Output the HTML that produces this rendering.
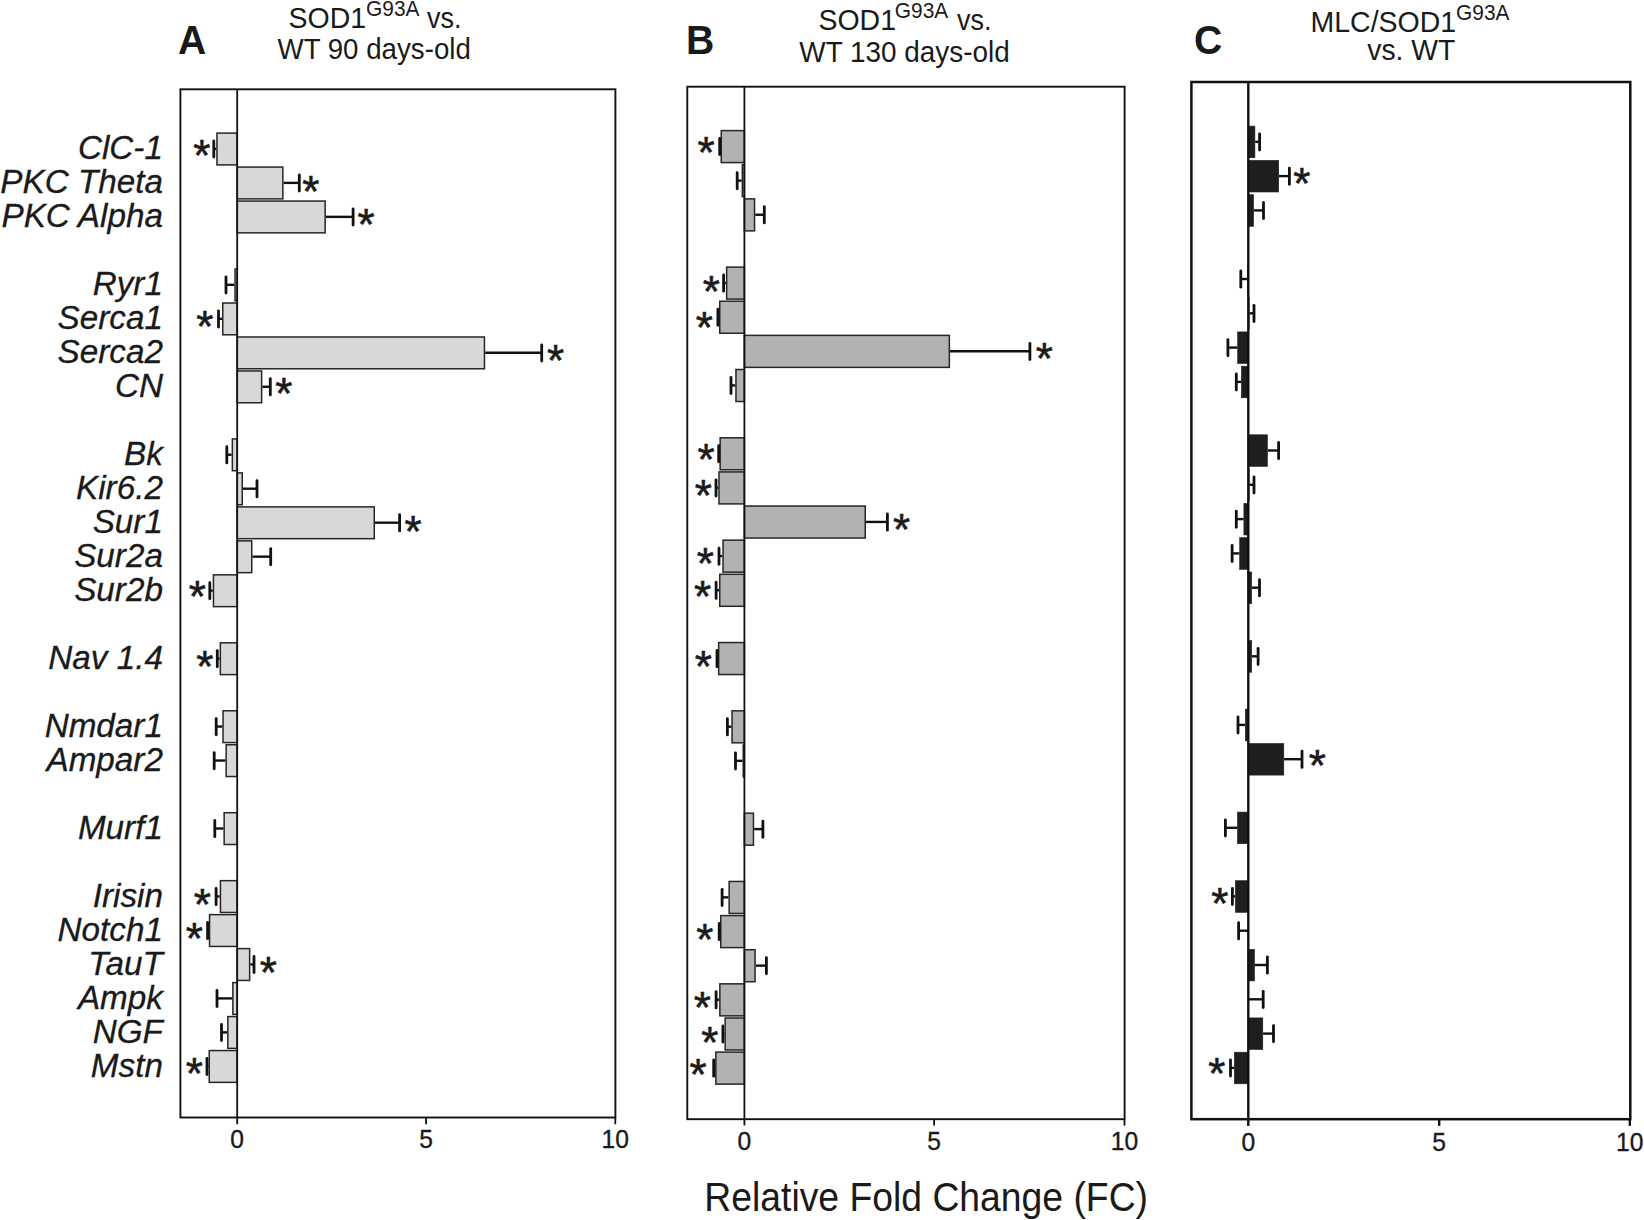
<!DOCTYPE html>
<html lang="en"><head><meta charset="utf-8"><title>Relative Fold Change</title>
<style>html,body{margin:0;padding:0;background:#fff}body{width:1644px;height:1220px;overflow:hidden}svg{display:block}text{font-family:"Liberation Sans",Arial,Helvetica,sans-serif;fill:#1a1a1a}.gl{font-style:italic;font-size:32.3px;text-anchor:end;stroke:#1a1a1a;stroke-width:0.3px}.tk{font-size:25.3px;text-anchor:middle;stroke:#1a1a1a;stroke-width:0.35px}.tt{font-size:30px}.sup{font-size:21.6px}.pl{font-weight:bold;font-size:40.4px}.ax{font-size:40.6px}.as{font-size:44px;text-anchor:middle;stroke:#1a1a1a;stroke-width:0.55px}</style></head><body>
<svg width="1644" height="1220" viewBox="0 0 1644 1220">
<rect width="1644" height="1220" fill="#ffffff"/>
<g class="gl">
<text transform="translate(162.9 158.6) scale(1.03 1)">ClC-1</text>
<text transform="translate(162.9 192.6) scale(1.03 1)">PKC Theta</text>
<text transform="translate(162.9 226.7) scale(1.03 1)">PKC Alpha</text>
<text transform="translate(162.9 294.7) scale(1.03 1)">Ryr1</text>
<text transform="translate(162.9 328.8) scale(1.03 1)">Serca1</text>
<text transform="translate(162.9 362.8) scale(1.03 1)">Serca2</text>
<text transform="translate(162.9 396.8) scale(1.03 1)">CN</text>
<text transform="translate(162.9 464.9) scale(1.03 1)">Bk</text>
<text transform="translate(162.9 498.9) scale(1.03 1)">Kir6.2</text>
<text transform="translate(162.9 532.9) scale(1.03 1)">Sur1</text>
<text transform="translate(162.9 567.0) scale(1.03 1)">Sur2a</text>
<text transform="translate(162.9 601.0) scale(1.03 1)">Sur2b</text>
<text transform="translate(162.9 669.1) scale(1.03 1)">Nav 1.4</text>
<text transform="translate(162.9 737.1) scale(1.03 1)">Nmdar1</text>
<text transform="translate(162.9 771.1) scale(1.03 1)">Ampar2</text>
<text transform="translate(162.9 839.2) scale(1.03 1)">Murf1</text>
<text transform="translate(162.9 907.3) scale(1.03 1)">Irisin</text>
<text transform="translate(162.9 941.3) scale(1.03 1)">Notch1</text>
<text transform="translate(162.9 975.3) scale(1.03 1)">TauT</text>
<text transform="translate(162.9 1009.4) scale(1.03 1)">Ampk</text>
<text transform="translate(162.9 1043.4) scale(1.03 1)">NGF</text>
<text transform="translate(162.9 1077.4) scale(1.03 1)">Mstn</text>
</g>
<g>
<rect x="216.95" y="133.10" width="20.25" height="31.80" fill="#d8d8d8" stroke="#262626" stroke-width="1.5"/>
<path d="M216.20 148.90H213.80" stroke="#111" stroke-width="2.4" fill="none"/><path d="M213.80 140.90V157.10" stroke="#111" stroke-width="2.8" stroke-linecap="round" fill="none"/>
<text class="as" x="201.8" y="171.3">*</text>
<rect x="237.20" y="167.08" width="45.65" height="31.80" fill="#d8d8d8" stroke="#262626" stroke-width="1.5"/>
<path d="M283.60 182.88H299.30" stroke="#111" stroke-width="2.4" fill="none"/><path d="M299.30 174.88V191.08" stroke="#111" stroke-width="2.8" stroke-linecap="round" fill="none"/>
<text class="as" x="310.9" y="206.5">*</text>
<rect x="237.20" y="201.06" width="87.95" height="31.80" fill="#d8d8d8" stroke="#262626" stroke-width="1.5"/>
<path d="M325.90 216.86H353.10" stroke="#111" stroke-width="2.4" fill="none"/><path d="M353.10 208.86V225.06" stroke="#111" stroke-width="2.8" stroke-linecap="round" fill="none"/>
<text class="as" x="366.0" y="239.5">*</text>
<rect x="235.05" y="269.02" width="2.15" height="31.80" fill="#d8d8d8" stroke="#262626" stroke-width="1.5"/>
<path d="M234.30 284.82H226.00" stroke="#111" stroke-width="2.4" fill="none"/><path d="M226.00 276.82V293.02" stroke="#111" stroke-width="2.8" stroke-linecap="round" fill="none"/>
<rect x="222.75" y="303.00" width="14.45" height="31.80" fill="#d8d8d8" stroke="#262626" stroke-width="1.5"/>
<path d="M222.00 318.80H218.50" stroke="#111" stroke-width="2.4" fill="none"/><path d="M218.50 310.80V327.00" stroke="#111" stroke-width="2.8" stroke-linecap="round" fill="none"/>
<text class="as" x="204.8" y="341.5">*</text>
<rect x="237.20" y="336.98" width="247.25" height="31.80" fill="#d8d8d8" stroke="#262626" stroke-width="1.5"/>
<path d="M485.20 352.78H541.70" stroke="#111" stroke-width="2.4" fill="none"/><path d="M541.70 344.78V360.98" stroke="#111" stroke-width="2.8" stroke-linecap="round" fill="none"/>
<text class="as" x="555.6" y="376.0">*</text>
<rect x="237.20" y="370.96" width="24.45" height="31.80" fill="#d8d8d8" stroke="#262626" stroke-width="1.5"/>
<path d="M262.40 386.76H270.30" stroke="#111" stroke-width="2.4" fill="none"/><path d="M270.30 378.76V394.96" stroke="#111" stroke-width="2.8" stroke-linecap="round" fill="none"/>
<text class="as" x="283.7" y="408.6">*</text>
<rect x="232.35" y="438.92" width="4.85" height="31.80" fill="#d8d8d8" stroke="#262626" stroke-width="1.5"/>
<path d="M231.60 454.72H226.80" stroke="#111" stroke-width="2.4" fill="none"/><path d="M226.80 446.72V462.92" stroke="#111" stroke-width="2.8" stroke-linecap="round" fill="none"/>
<rect x="237.20" y="472.90" width="5.05" height="31.80" fill="#d8d8d8" stroke="#262626" stroke-width="1.5"/>
<path d="M243.00 488.70H257.00" stroke="#111" stroke-width="2.4" fill="none"/><path d="M257.00 480.70V496.90" stroke="#111" stroke-width="2.8" stroke-linecap="round" fill="none"/>
<rect x="237.20" y="506.88" width="137.05" height="31.80" fill="#d8d8d8" stroke="#262626" stroke-width="1.5"/>
<path d="M375.00 522.68H399.60" stroke="#111" stroke-width="2.4" fill="none"/><path d="M399.60 514.68V530.88" stroke="#111" stroke-width="2.8" stroke-linecap="round" fill="none"/>
<text class="as" x="413.0" y="547.4">*</text>
<rect x="237.20" y="540.86" width="14.55" height="31.80" fill="#d8d8d8" stroke="#262626" stroke-width="1.5"/>
<path d="M252.50 556.66H270.70" stroke="#111" stroke-width="2.4" fill="none"/><path d="M270.70 548.66V564.86" stroke="#111" stroke-width="2.8" stroke-linecap="round" fill="none"/>
<rect x="213.45" y="574.84" width="23.75" height="31.80" fill="#d8d8d8" stroke="#262626" stroke-width="1.5"/>
<path d="M212.70 590.64H209.80" stroke="#111" stroke-width="2.4" fill="none"/><path d="M209.80 582.64V598.84" stroke="#111" stroke-width="2.8" stroke-linecap="round" fill="none"/>
<text class="as" x="197.3" y="612.3">*</text>
<rect x="220.35" y="642.80" width="16.85" height="31.80" fill="#d8d8d8" stroke="#262626" stroke-width="1.5"/>
<path d="M219.60 658.60H217.30" stroke="#111" stroke-width="2.4" fill="none"/><path d="M217.30 650.60V666.80" stroke="#111" stroke-width="2.8" stroke-linecap="round" fill="none"/>
<text class="as" x="204.8" y="681.9">*</text>
<rect x="223.05" y="710.76" width="14.15" height="31.80" fill="#d8d8d8" stroke="#262626" stroke-width="1.5"/>
<path d="M222.30 726.56H216.20" stroke="#111" stroke-width="2.4" fill="none"/><path d="M216.20 718.56V734.76" stroke="#111" stroke-width="2.8" stroke-linecap="round" fill="none"/>
<rect x="226.15" y="744.74" width="11.05" height="31.80" fill="#d8d8d8" stroke="#262626" stroke-width="1.5"/>
<path d="M225.40 760.54H214.20" stroke="#111" stroke-width="2.4" fill="none"/><path d="M214.20 752.54V768.74" stroke="#111" stroke-width="2.8" stroke-linecap="round" fill="none"/>
<rect x="224.15" y="812.70" width="13.05" height="31.80" fill="#d8d8d8" stroke="#262626" stroke-width="1.5"/>
<path d="M223.40 828.50H214.80" stroke="#111" stroke-width="2.4" fill="none"/><path d="M214.80 820.50V836.70" stroke="#111" stroke-width="2.8" stroke-linecap="round" fill="none"/>
<rect x="220.45" y="880.66" width="16.75" height="31.80" fill="#d8d8d8" stroke="#262626" stroke-width="1.5"/>
<path d="M219.70 896.46H216.10" stroke="#111" stroke-width="2.4" fill="none"/><path d="M216.10 888.46V904.66" stroke="#111" stroke-width="2.8" stroke-linecap="round" fill="none"/>
<text class="as" x="202.2" y="920.0">*</text>
<rect x="209.55" y="914.64" width="27.65" height="31.80" fill="#d8d8d8" stroke="#262626" stroke-width="1.5"/>
<path d="M208.80 930.44H207.60" stroke="#111" stroke-width="2.4" fill="none"/><path d="M207.60 922.44V938.64" stroke="#111" stroke-width="2.8" stroke-linecap="round" fill="none"/>
<text class="as" x="194.2" y="953.5">*</text>
<rect x="237.20" y="948.62" width="12.45" height="31.80" fill="#d8d8d8" stroke="#262626" stroke-width="1.5"/>
<path d="M250.40 964.42H254.00" stroke="#111" stroke-width="2.4" fill="none"/><path d="M254.00 956.42V972.62" stroke="#111" stroke-width="2.8" stroke-linecap="round" fill="none"/>
<text class="as" x="268.4" y="987.8">*</text>
<rect x="232.85" y="982.60" width="4.35" height="31.80" fill="#d8d8d8" stroke="#262626" stroke-width="1.5"/>
<path d="M232.10 998.40H217.00" stroke="#111" stroke-width="2.4" fill="none"/><path d="M217.00 990.40V1006.60" stroke="#111" stroke-width="2.8" stroke-linecap="round" fill="none"/>
<rect x="227.85" y="1016.58" width="9.35" height="31.80" fill="#d8d8d8" stroke="#262626" stroke-width="1.5"/>
<path d="M227.10 1032.38H221.50" stroke="#111" stroke-width="2.4" fill="none"/><path d="M221.50 1024.38V1040.58" stroke="#111" stroke-width="2.8" stroke-linecap="round" fill="none"/>
<rect x="209.25" y="1050.56" width="27.95" height="31.80" fill="#d8d8d8" stroke="#262626" stroke-width="1.5"/>
<path d="M208.50 1066.36H207.00" stroke="#111" stroke-width="2.4" fill="none"/><path d="M207.00 1058.36V1074.56" stroke="#111" stroke-width="2.8" stroke-linecap="round" fill="none"/>
<text class="as" x="194.2" y="1088.6">*</text>
<rect x="180.40" y="89.30" width="435.00" height="1028.20" fill="none" stroke="#111" stroke-width="1.9"/>
<line x1="237.20" y1="89.30" x2="237.20" y2="1124.30" stroke="#111" stroke-width="1.8"/>
<line x1="426.10" y1="1117.50" x2="426.10" y2="1124.30" stroke="#111" stroke-width="1.8"/>
<line x1="615.30" y1="1117.50" x2="615.30" y2="1124.30" stroke="#111" stroke-width="1.8"/>
<text class="tk" transform="translate(237.2 1148.0) scale(0.973 1)">0</text>
<text class="tk" transform="translate(426.1 1148.0) scale(0.973 1)">5</text>
<text class="tk" transform="translate(615.3 1148.0) scale(0.973 1)">10</text>
</g>
<g>
<rect x="721.25" y="130.60" width="23.15" height="32.00" fill="#b2b2b2" stroke="#262626" stroke-width="1.5"/>
<path d="M720.50 146.50H719.70" stroke="#111" stroke-width="2.4" fill="none"/><path d="M719.70 138.50V154.70" stroke="#111" stroke-width="2.8" stroke-linecap="round" fill="none"/>
<text class="as" x="706.1" y="167.8">*</text>
<rect x="742.35" y="164.73" width="2.05" height="32.00" fill="#b2b2b2" stroke="#262626" stroke-width="1.5"/>
<path d="M741.60 180.63H737.20" stroke="#111" stroke-width="2.4" fill="none"/><path d="M737.20 172.63V188.83" stroke="#111" stroke-width="2.8" stroke-linecap="round" fill="none"/>
<rect x="744.40" y="198.86" width="10.15" height="32.00" fill="#b2b2b2" stroke="#262626" stroke-width="1.5"/>
<path d="M755.30 214.76H764.30" stroke="#111" stroke-width="2.4" fill="none"/><path d="M764.30 206.76V222.96" stroke="#111" stroke-width="2.8" stroke-linecap="round" fill="none"/>
<rect x="726.65" y="267.12" width="17.75" height="32.00" fill="#b2b2b2" stroke="#262626" stroke-width="1.5"/>
<path d="M725.90 283.02H723.60" stroke="#111" stroke-width="2.4" fill="none"/><path d="M723.60 275.02V291.22" stroke="#111" stroke-width="2.8" stroke-linecap="round" fill="none"/>
<text class="as" x="711.2" y="306.5">*</text>
<rect x="719.75" y="301.25" width="24.65" height="32.00" fill="#b2b2b2" stroke="#262626" stroke-width="1.5"/>
<path d="M719.00 317.15H717.90" stroke="#111" stroke-width="2.4" fill="none"/><path d="M717.90 309.15V325.35" stroke="#111" stroke-width="2.8" stroke-linecap="round" fill="none"/>
<text class="as" x="704.3" y="342.6">*</text>
<rect x="744.40" y="335.38" width="204.95" height="32.00" fill="#b2b2b2" stroke="#262626" stroke-width="1.5"/>
<path d="M950.10 351.28H1029.90" stroke="#111" stroke-width="2.4" fill="none"/><path d="M1029.90 343.28V359.48" stroke="#111" stroke-width="2.8" stroke-linecap="round" fill="none"/>
<text class="as" x="1044.3" y="373.7">*</text>
<rect x="735.95" y="369.51" width="8.45" height="32.00" fill="#b2b2b2" stroke="#262626" stroke-width="1.5"/>
<path d="M735.20 385.41H731.00" stroke="#111" stroke-width="2.4" fill="none"/><path d="M731.00 377.41V393.61" stroke="#111" stroke-width="2.8" stroke-linecap="round" fill="none"/>
<rect x="720.15" y="437.77" width="24.25" height="32.00" fill="#b2b2b2" stroke="#262626" stroke-width="1.5"/>
<path d="M719.40 453.67H718.70" stroke="#111" stroke-width="2.4" fill="none"/><path d="M718.70 445.67V461.87" stroke="#111" stroke-width="2.8" stroke-linecap="round" fill="none"/>
<text class="as" x="706.0" y="475.4">*</text>
<rect x="718.95" y="471.90" width="25.45" height="32.00" fill="#b2b2b2" stroke="#262626" stroke-width="1.5"/>
<path d="M718.20 487.80H716.00" stroke="#111" stroke-width="2.4" fill="none"/><path d="M716.00 479.80V496.00" stroke="#111" stroke-width="2.8" stroke-linecap="round" fill="none"/>
<text class="as" x="703.2" y="510.6">*</text>
<rect x="744.40" y="506.03" width="120.85" height="32.00" fill="#b2b2b2" stroke="#262626" stroke-width="1.5"/>
<path d="M866.00 521.93H887.40" stroke="#111" stroke-width="2.4" fill="none"/><path d="M887.40 513.93V530.13" stroke="#111" stroke-width="2.8" stroke-linecap="round" fill="none"/>
<text class="as" x="901.6" y="544.5">*</text>
<rect x="723.05" y="540.16" width="21.35" height="32.00" fill="#b2b2b2" stroke="#262626" stroke-width="1.5"/>
<path d="M722.30 556.06H719.00" stroke="#111" stroke-width="2.4" fill="none"/><path d="M719.00 548.06V564.26" stroke="#111" stroke-width="2.8" stroke-linecap="round" fill="none"/>
<text class="as" x="705.4" y="578.7">*</text>
<rect x="719.75" y="574.29" width="24.65" height="32.00" fill="#b2b2b2" stroke="#262626" stroke-width="1.5"/>
<path d="M719.00 590.19H716.10" stroke="#111" stroke-width="2.4" fill="none"/><path d="M716.10 582.19V598.39" stroke="#111" stroke-width="2.8" stroke-linecap="round" fill="none"/>
<text class="as" x="702.6" y="611.6">*</text>
<rect x="718.65" y="642.55" width="25.75" height="32.00" fill="#b2b2b2" stroke="#262626" stroke-width="1.5"/>
<path d="M717.90 658.45H717.00" stroke="#111" stroke-width="2.4" fill="none"/><path d="M717.00 650.45V666.65" stroke="#111" stroke-width="2.8" stroke-linecap="round" fill="none"/>
<text class="as" x="703.3" y="682.3">*</text>
<rect x="732.05" y="710.81" width="12.35" height="32.00" fill="#b2b2b2" stroke="#262626" stroke-width="1.5"/>
<path d="M731.30 726.71H727.40" stroke="#111" stroke-width="2.4" fill="none"/><path d="M727.40 718.71V734.91" stroke="#111" stroke-width="2.8" stroke-linecap="round" fill="none"/>
<rect x="743.25" y="744.94" width="1.15" height="32.00" fill="#b2b2b2" stroke="#262626" stroke-width="1.5"/>
<path d="M742.50 760.84H735.50" stroke="#111" stroke-width="2.4" fill="none"/><path d="M735.50 752.84V769.04" stroke="#111" stroke-width="2.8" stroke-linecap="round" fill="none"/>
<rect x="744.40" y="813.20" width="9.05" height="32.00" fill="#b2b2b2" stroke="#262626" stroke-width="1.5"/>
<path d="M754.20 829.10H762.90" stroke="#111" stroke-width="2.4" fill="none"/><path d="M762.90 821.10V837.30" stroke="#111" stroke-width="2.8" stroke-linecap="round" fill="none"/>
<rect x="729.15" y="881.46" width="15.25" height="32.00" fill="#b2b2b2" stroke="#262626" stroke-width="1.5"/>
<path d="M728.40 897.36H722.10" stroke="#111" stroke-width="2.4" fill="none"/><path d="M722.10 889.36V905.56" stroke="#111" stroke-width="2.8" stroke-linecap="round" fill="none"/>
<rect x="720.75" y="915.59" width="23.65" height="32.00" fill="#b2b2b2" stroke="#262626" stroke-width="1.5"/>
<path d="M720.00 931.49H719.20" stroke="#111" stroke-width="2.4" fill="none"/><path d="M719.20 923.49V939.69" stroke="#111" stroke-width="2.8" stroke-linecap="round" fill="none"/>
<text class="as" x="704.9" y="955.1">*</text>
<rect x="744.40" y="949.72" width="10.65" height="32.00" fill="#b2b2b2" stroke="#262626" stroke-width="1.5"/>
<path d="M755.80 965.62H766.40" stroke="#111" stroke-width="2.4" fill="none"/><path d="M766.40 957.62V973.82" stroke="#111" stroke-width="2.8" stroke-linecap="round" fill="none"/>
<rect x="719.85" y="983.85" width="24.55" height="32.00" fill="#b2b2b2" stroke="#262626" stroke-width="1.5"/>
<path d="M719.10 999.75H716.10" stroke="#111" stroke-width="2.4" fill="none"/><path d="M716.10 991.75V1007.95" stroke="#111" stroke-width="2.8" stroke-linecap="round" fill="none"/>
<text class="as" x="702.4" y="1022.5">*</text>
<rect x="725.15" y="1017.98" width="19.25" height="32.00" fill="#b2b2b2" stroke="#262626" stroke-width="1.5"/>
<path d="M724.40 1033.88H722.90" stroke="#111" stroke-width="2.4" fill="none"/><path d="M722.90 1025.88V1042.08" stroke="#111" stroke-width="2.8" stroke-linecap="round" fill="none"/>
<text class="as" x="709.7" y="1058.0">*</text>
<rect x="715.85" y="1052.11" width="28.55" height="32.00" fill="#b2b2b2" stroke="#262626" stroke-width="1.5"/>
<path d="M715.10 1068.01H713.70" stroke="#111" stroke-width="2.4" fill="none"/><path d="M713.70 1060.01V1076.21" stroke="#111" stroke-width="2.8" stroke-linecap="round" fill="none"/>
<text class="as" x="698.1" y="1090.3">*</text>
<rect x="687.30" y="86.70" width="437.30" height="1032.50" fill="none" stroke="#111" stroke-width="1.9"/>
<line x1="744.40" y1="86.70" x2="744.40" y2="1125.60" stroke="#111" stroke-width="1.8"/>
<line x1="934.10" y1="1119.20" x2="934.10" y2="1125.60" stroke="#111" stroke-width="1.8"/>
<line x1="1124.50" y1="1119.20" x2="1124.50" y2="1125.60" stroke="#111" stroke-width="1.8"/>
<text class="tk" transform="translate(744.4 1150.2) scale(0.973 1)">0</text>
<text class="tk" transform="translate(934.1 1150.2) scale(0.973 1)">5</text>
<text class="tk" transform="translate(1124.5 1150.2) scale(0.973 1)">10</text>
</g>
<g>
<rect x="1248.30" y="126.10" width="6.60" height="31.60" fill="#1e1e1e" stroke="#1e1e1e" stroke-width="0.6"/>
<path d="M1255.20 141.80H1259.60" stroke="#111" stroke-width="2.4" fill="none"/><path d="M1259.60 133.80V150.00" stroke="#111" stroke-width="2.8" stroke-linecap="round" fill="none"/>
<rect x="1248.30" y="160.40" width="30.40" height="31.60" fill="#1e1e1e" stroke="#1e1e1e" stroke-width="0.6"/>
<path d="M1279.00 176.10H1289.40" stroke="#111" stroke-width="2.4" fill="none"/><path d="M1289.40 168.10V184.30" stroke="#111" stroke-width="2.8" stroke-linecap="round" fill="none"/>
<text class="as" x="1301.7" y="198.8">*</text>
<rect x="1248.30" y="194.70" width="5.30" height="31.60" fill="#1e1e1e" stroke="#1e1e1e" stroke-width="0.6"/>
<path d="M1253.90 210.40H1263.50" stroke="#111" stroke-width="2.4" fill="none"/><path d="M1263.50 202.40V218.60" stroke="#111" stroke-width="2.8" stroke-linecap="round" fill="none"/>
<rect x="1247.50" y="263.30" width="0.80" height="31.60" fill="#1e1e1e" stroke="#1e1e1e" stroke-width="0.6"/>
<path d="M1247.20 279.00H1240.80" stroke="#111" stroke-width="2.4" fill="none"/><path d="M1240.80 271.00V287.20" stroke="#111" stroke-width="2.8" stroke-linecap="round" fill="none"/>
<rect x="1248.30" y="297.60" width="0.90" height="31.60" fill="#1e1e1e" stroke="#1e1e1e" stroke-width="0.6"/>
<path d="M1249.50 313.30H1254.00" stroke="#111" stroke-width="2.4" fill="none"/><path d="M1254.00 305.30V321.50" stroke="#111" stroke-width="2.8" stroke-linecap="round" fill="none"/>
<rect x="1237.70" y="331.90" width="10.60" height="31.60" fill="#1e1e1e" stroke="#1e1e1e" stroke-width="0.6"/>
<path d="M1237.40 347.60H1227.90" stroke="#111" stroke-width="2.4" fill="none"/><path d="M1227.90 339.60V355.80" stroke="#111" stroke-width="2.8" stroke-linecap="round" fill="none"/>
<rect x="1241.40" y="366.20" width="6.90" height="31.60" fill="#1e1e1e" stroke="#1e1e1e" stroke-width="0.6"/>
<path d="M1241.10 381.90H1236.30" stroke="#111" stroke-width="2.4" fill="none"/><path d="M1236.30 373.90V390.10" stroke="#111" stroke-width="2.8" stroke-linecap="round" fill="none"/>
<rect x="1248.30" y="434.80" width="19.10" height="31.60" fill="#1e1e1e" stroke="#1e1e1e" stroke-width="0.6"/>
<path d="M1267.70 450.50H1278.60" stroke="#111" stroke-width="2.4" fill="none"/><path d="M1278.60 442.50V458.70" stroke="#111" stroke-width="2.8" stroke-linecap="round" fill="none"/>
<rect x="1248.30" y="469.10" width="0.90" height="31.60" fill="#1e1e1e" stroke="#1e1e1e" stroke-width="0.6"/>
<path d="M1249.50 484.80H1254.00" stroke="#111" stroke-width="2.4" fill="none"/><path d="M1254.00 476.80V493.00" stroke="#111" stroke-width="2.8" stroke-linecap="round" fill="none"/>
<rect x="1243.90" y="503.40" width="4.40" height="31.60" fill="#1e1e1e" stroke="#1e1e1e" stroke-width="0.6"/>
<path d="M1243.60 519.10H1236.30" stroke="#111" stroke-width="2.4" fill="none"/><path d="M1236.30 511.10V527.30" stroke="#111" stroke-width="2.8" stroke-linecap="round" fill="none"/>
<rect x="1239.70" y="537.70" width="8.60" height="31.60" fill="#1e1e1e" stroke="#1e1e1e" stroke-width="0.6"/>
<path d="M1239.40 553.40H1232.10" stroke="#111" stroke-width="2.4" fill="none"/><path d="M1232.10 545.40V561.60" stroke="#111" stroke-width="2.8" stroke-linecap="round" fill="none"/>
<rect x="1248.30" y="572.00" width="3.40" height="31.60" fill="#1e1e1e" stroke="#1e1e1e" stroke-width="0.6"/>
<path d="M1252.00 587.70H1259.50" stroke="#111" stroke-width="2.4" fill="none"/><path d="M1259.50 579.70V595.90" stroke="#111" stroke-width="2.8" stroke-linecap="round" fill="none"/>
<rect x="1248.30" y="640.60" width="3.40" height="31.60" fill="#1e1e1e" stroke="#1e1e1e" stroke-width="0.6"/>
<path d="M1252.00 656.30H1258.10" stroke="#111" stroke-width="2.4" fill="none"/><path d="M1258.10 648.30V664.50" stroke="#111" stroke-width="2.8" stroke-linecap="round" fill="none"/>
<rect x="1245.30" y="709.20" width="3.00" height="31.60" fill="#1e1e1e" stroke="#1e1e1e" stroke-width="0.6"/>
<path d="M1245.00 724.90H1238.00" stroke="#111" stroke-width="2.4" fill="none"/><path d="M1238.00 716.90V733.10" stroke="#111" stroke-width="2.8" stroke-linecap="round" fill="none"/>
<rect x="1248.30" y="743.50" width="35.50" height="31.60" fill="#1e1e1e" stroke="#1e1e1e" stroke-width="0.6"/>
<path d="M1284.10 759.20H1302.00" stroke="#111" stroke-width="2.4" fill="none"/><path d="M1302.00 751.20V767.40" stroke="#111" stroke-width="2.8" stroke-linecap="round" fill="none"/>
<text class="as" x="1317.3" y="781.1">*</text>
<rect x="1237.50" y="812.10" width="10.80" height="31.60" fill="#1e1e1e" stroke="#1e1e1e" stroke-width="0.6"/>
<path d="M1237.20 827.80H1225.40" stroke="#111" stroke-width="2.4" fill="none"/><path d="M1225.40 819.80V836.00" stroke="#111" stroke-width="2.8" stroke-linecap="round" fill="none"/>
<rect x="1235.40" y="880.70" width="12.90" height="31.60" fill="#1e1e1e" stroke="#1e1e1e" stroke-width="0.6"/>
<path d="M1235.10 896.40H1232.40" stroke="#111" stroke-width="2.4" fill="none"/><path d="M1232.40 888.40V904.60" stroke="#111" stroke-width="2.8" stroke-linecap="round" fill="none"/>
<text class="as" x="1219.8" y="919.0">*</text>
<path d="M1248.30 930.70H1238.60" stroke="#111" stroke-width="2.4" fill="none"/><path d="M1238.60 922.70V938.90" stroke="#111" stroke-width="2.8" stroke-linecap="round" fill="none"/>
<rect x="1248.30" y="949.30" width="6.20" height="31.60" fill="#1e1e1e" stroke="#1e1e1e" stroke-width="0.6"/>
<path d="M1254.80 965.00H1267.40" stroke="#111" stroke-width="2.4" fill="none"/><path d="M1267.40 957.00V973.20" stroke="#111" stroke-width="2.8" stroke-linecap="round" fill="none"/>
<path d="M1248.30 999.30H1263.20" stroke="#111" stroke-width="2.4" fill="none"/><path d="M1263.20 991.30V1007.50" stroke="#111" stroke-width="2.8" stroke-linecap="round" fill="none"/>
<rect x="1248.30" y="1017.90" width="14.50" height="31.60" fill="#1e1e1e" stroke="#1e1e1e" stroke-width="0.6"/>
<path d="M1263.10 1033.60H1273.50" stroke="#111" stroke-width="2.4" fill="none"/><path d="M1273.50 1025.60V1041.80" stroke="#111" stroke-width="2.8" stroke-linecap="round" fill="none"/>
<rect x="1234.40" y="1052.20" width="13.90" height="31.60" fill="#1e1e1e" stroke="#1e1e1e" stroke-width="0.6"/>
<path d="M1234.10 1067.90H1230.50" stroke="#111" stroke-width="2.4" fill="none"/><path d="M1230.50 1059.90V1076.10" stroke="#111" stroke-width="2.8" stroke-linecap="round" fill="none"/>
<text class="as" x="1216.9" y="1088.6">*</text>
<rect x="1191.40" y="82.00" width="438.90" height="1037.20" fill="none" stroke="#111" stroke-width="2.5"/>
<line x1="1248.30" y1="82.00" x2="1248.30" y2="1125.90" stroke="#111" stroke-width="2.4"/>
<line x1="1439.20" y1="1119.20" x2="1439.20" y2="1125.90" stroke="#111" stroke-width="2.4"/>
<line x1="1629.80" y1="1119.20" x2="1629.80" y2="1125.90" stroke="#111" stroke-width="2.4"/>
<text class="tk" transform="translate(1248.3 1150.8) scale(0.973 1)">0</text>
<text class="tk" transform="translate(1439.2 1150.8) scale(0.973 1)">5</text>
<text class="tk" transform="translate(1629.8 1150.8) scale(0.973 1)">10</text>
</g>
<text class="pl" transform="translate(177.9 54.0) scale(0.97 1)">A</text>
<text class="pl" transform="translate(686.0 54.0) scale(0.97 1)">B</text>
<text class="pl" transform="translate(1194.0 54.0) scale(0.97 1)">C</text>
<text class="tt" transform="translate(288.6 27.7) scale(0.950 1)">SOD1</text>
<text class="sup" transform="translate(366.0 15.5) scale(0.968 1)">G93A</text>
<text class="tt" transform="translate(427.0 27.7) scale(0.900 1)">vs.</text>
<text class="tt" transform="translate(277.5 59.4) scale(0.923 1)">WT 90 days-old</text>
<text class="tt" transform="translate(818.4 29.5) scale(0.950 1)">SOD1</text>
<text class="sup" transform="translate(894.8 17.6) scale(0.968 1)">G93A</text>
<text class="tt" transform="translate(957.0 29.5) scale(0.900 1)">vs.</text>
<text class="tt" transform="translate(799.3 61.5) scale(0.931 1)">WT 130 days-old</text>
<text class="tt" transform="translate(1310.5 31.9) scale(0.950 1)">MLC/SOD1</text>
<text class="sup" transform="translate(1456.1 19.6) scale(0.968 1)">G93A</text>
<text class="tt" transform="translate(1367.3 59.7) scale(0.943 1)">vs. WT</text>
<text class="ax" transform="translate(704.3 1210.5) scale(0.919 1)">Relative Fold Change (FC)</text>
</svg></body></html>
